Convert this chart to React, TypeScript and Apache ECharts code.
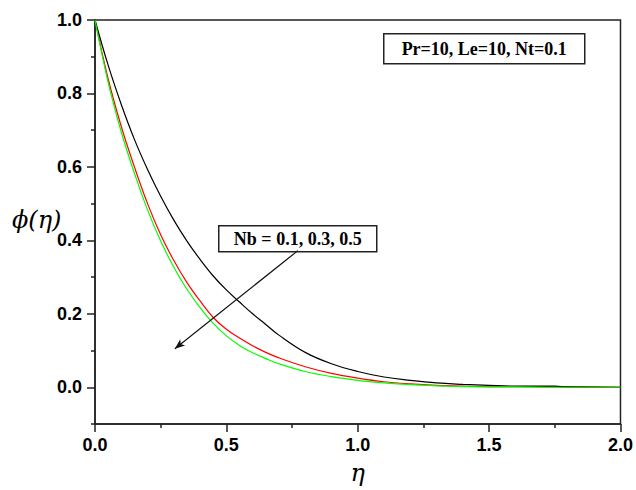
import React, { useEffect, useRef } from "react";
import * as echarts from "echarts";

const etaValues = [0, 0.05, 0.1, 0.15, 0.2, 0.25, 0.3, 0.35, 0.4, 0.45, 0.5, 0.55, 0.6, 0.65, 0.7, 0.8, 0.9, 1.0, 1.1, 1.2, 1.3, 1.4, 1.5, 1.6, 1.75, 1.8, 2.0];
const phiNb01 = [1, 0.877, 0.77, 0.675, 0.593, 0.52, 0.455, 0.398, 0.348, 0.303, 0.265, 0.232, 0.2, 0.171, 0.142, 0.095, 0.064, 0.043, 0.028, 0.019, 0.012, 0.008, 0.005, 0.003, 0.003, 0.001, 0];
const phiNb03 = [1, 0.84, 0.71, 0.6, 0.5, 0.415, 0.345, 0.285, 0.235, 0.19, 0.158, 0.134, 0.113, 0.095, 0.08, 0.056, 0.038, 0.025, 0.015, 0.009, 0.005, 0.003, 0.002, 0.002, 0.001, 0.001, 0];
const phiNb05 = [1, 0.83, 0.695, 0.583, 0.483, 0.398, 0.327, 0.267, 0.217, 0.174, 0.14, 0.114, 0.094, 0.078, 0.064, 0.043, 0.029, 0.019, 0.012, 0.007, 0.004, 0.002, 0.001, 0.001, 0, 0, 0];

const yMajorTicks = [0, 0.2, 0.4, 0.6, 0.8, 1.0];
const yMinorTicks = [-0.1, 0.1, 0.3, 0.5, 0.7, 0.9];
const yTitle = "ϕ(η)";
const xTitle = "η";
const paramText = "Pr=10, Le=10, Nt=0.1";
const nbText = "Nb = 0.1, 0.3, 0.5";
const arrowFrom = [0.772, 0.372];
const arrowTo = [0.304, 0.105];

const pairs = (ys: number[]) => etaValues.map((x, i) => [x, ys[i]]);

export default function App() {
  const ref = useRef<HTMLDivElement>(null);
  useEffect(() => {
    document.body.style.margin = "0";
    const chart = echarts.init(ref.current!, undefined, { renderer: "svg" });
    const labelFont = { fontFamily: "Liberation Sans", fontWeight: "bold" as const, fontSize: 18, color: "#000" };
    const lineBase = { type: "line", showSymbol: false, smooth: 0.4, silent: true };
    chart.setOption({
      animation: false,
      grid: { left: 95, right: 15, top: 20, bottom: 63, show: true, borderColor: "#222", borderWidth: 1.5, backgroundColor: "transparent" },
      xAxis: {
        type: "value", min: 0, max: 2, interval: 0.5,
        axisLine: { show: true, onZero: false, lineStyle: { color: "#222", width: 1.5 } },
        axisTick: { show: true, inside: false, length: 8, lineStyle: { color: "#222", width: 1.5 } },
        minorTick: { show: true, splitNumber: 2, length: 4, lineStyle: { color: "#222", width: 1.5 } },
        axisLabel: { ...labelFont, margin: 12, formatter: (v: number) => v.toFixed(1) },
        splitLine: { show: false },
        name: xTitle, nameLocation: "middle", nameGap: 37,
        nameTextStyle: { fontFamily: "DejaVu Serif", fontStyle: "italic", fontSize: 24, color: "#000" },
      },
      yAxis: [
        {
          type: "value", min: -0.1, max: 1.0, interval: 0.2,
          axisLine: { show: true, onZero: false, lineStyle: { color: "#222", width: 1.5 } },
          axisTick: { show: true, length: 8, lineStyle: { color: "#222", width: 1.5 }, customValues: yMajorTicks },
          axisLabel: { ...labelFont, margin: 13, formatter: (v: number) => v.toFixed(1), customValues: yMajorTicks },
          splitLine: { show: false },
        },
        {
          type: "value", min: -0.1, max: 1.0, interval: 0.1, position: "left",
          axisLine: { show: false, onZero: false },
          axisTick: { show: true, length: 4, lineStyle: { color: "#222", width: 1.5 }, customValues: yMinorTicks },
          axisLabel: { show: false },
          splitLine: { show: false },
        },
      ],
      series: [
        { ...lineBase, name: "Nb=0.3", data: pairs(phiNb03), lineStyle: { color: "#ff0000", width: 1.2 }, z: 2 },
        {
          ...lineBase, name: "Nb=0.1", data: pairs(phiNb01), lineStyle: { color: "#000000", width: 1.2 }, z: 3,
          markLine: {
            silent: true, symbol: ["none", "arrow"], symbolSize: [6, 10],
            label: { show: false },
            lineStyle: { color: "#111", width: 1.2, type: "solid" },
            data: [[{ coord: arrowFrom }, { coord: arrowTo }]],
          },
        },
        { ...lineBase, name: "Nb=0.5", data: pairs(phiNb05), lineStyle: { color: "#00ff00", width: 1.2 }, z: 4 },
      ],
      graphic: [
        {
          type: "text", left: 12, top: 208,
          style: { text: yTitle, fontFamily: "DejaVu Serif", fontStyle: "italic", fontSize: 24, fill: "#000" },
        },
        {
          type: "group", left: 383, top: 33, children: [
            { type: "rect", shape: { x: 0, y: 0, width: 201, height: 30 }, style: { fill: "#fff", stroke: "#222", lineWidth: 1.5 } },
            { type: "text", x: 100.5, y: 15, style: { text: paramText, fontFamily: "Liberation Serif", fontWeight: "bold", fontSize: 18, fill: "#000", align: "center", verticalAlign: "middle" } },
          ],
        },
        {
          type: "group", left: 218, top: 225, children: [
            { type: "rect", shape: { x: 0, y: 0, width: 158, height: 26 }, style: { fill: "#fff", stroke: "#222", lineWidth: 1.5 } },
            { type: "text", x: 79, y: 13, style: { text: nbText, fontFamily: "Liberation Serif", fontWeight: "bold", fontSize: 18, fill: "#000", align: "center", verticalAlign: "middle" } },
          ],
        },
      ],
    });
    return () => chart.dispose();
  }, []);
  return <div ref={ref} style={{ width: 636, height: 490 }} />;
}
